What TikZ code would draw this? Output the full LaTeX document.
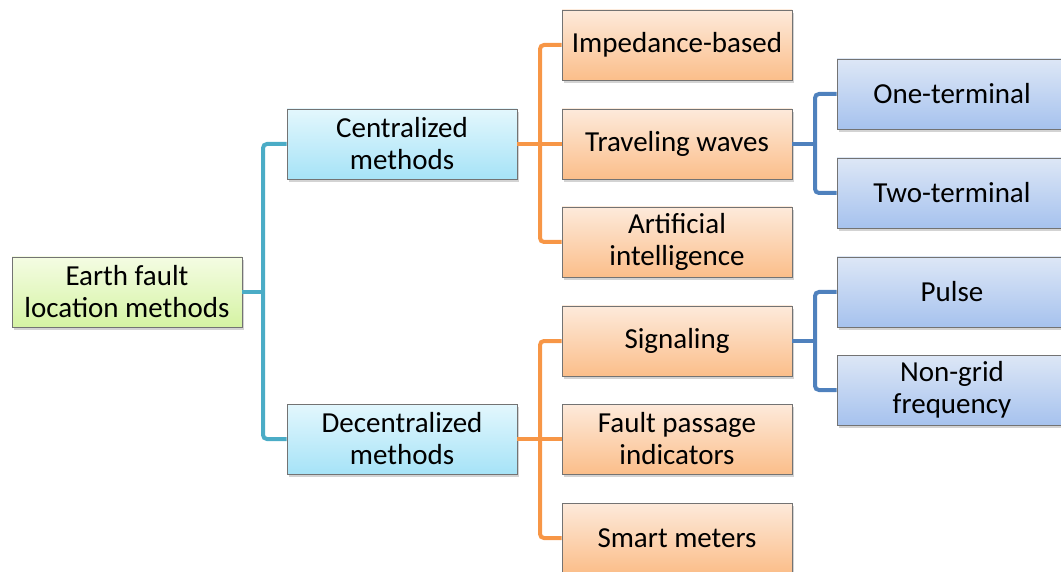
\documentclass[tikz,border=0pt]{standalone}
\usepackage{fontspec}
\setmainfont{Carlito}
\usetikzlibrary{shadows}

\definecolor{rootTop}{HTML}{F4FCE3}
\definecolor{rootBot}{HTML}{D5F3A3}
\definecolor{midTop}{HTML}{E3F7FD}
\definecolor{midBot}{HTML}{A6E3F7}
\definecolor{orTop}{HTML}{FDEADB}
\definecolor{orBot}{HTML}{FBBE8A}
\definecolor{blTop}{HTML}{DDE7F6}
\definecolor{blBot}{HTML}{A6C2EE}
\definecolor{tealLine}{HTML}{4BACC6}
\definecolor{orLine}{HTML}{F79646}
\definecolor{blLine}{HTML}{4F81BD}

\tikzset{
  box/.style={rectangle, draw=black!55, line width=0.8pt,
    minimum width=230pt, minimum height=70pt,
    align=center, font=\fontsize{29}{32}\selectfont,
    drop shadow={shadow xshift=2pt, shadow yshift=-3pt, opacity=0.35}},
  rootbox/.style={box, top color=rootTop, bottom color=rootBot},
  midbox/.style={box, top color=midTop, bottom color=midBot},
  orbox/.style={box, top color=orTop, bottom color=orBot},
  blbox/.style={box, top color=blTop, bottom color=blBot},
  link/.style={line width=4pt, rounded corners=4pt}
}

\begin{document}
\begin{tikzpicture}[x=1pt,y=-1pt]
        \useasboundingbox (0,0) rectangle (1061,572);
        \clip (0,0) rectangle (1061,572);

        % trunk positions
        \coordinate (t1) at (263,0);
        \coordinate (t2) at (540,0);
        \coordinate (t3) at (815,0);

        \node[rootbox] (R) at (127,292) {Earth fault\\location methods};
        \node[midbox] (C) at (402,144) {Centralized\\methods};
        \node[midbox] (D) at (402,439) {Decentralized\\methods};

        \node[orbox] (C1) at (677,45) {Impedance-based};
        \node[orbox] (C2) at (677,144) {Traveling waves};
        \node[orbox] (C3) at (677,242) {Artificial\\intelligence};
        \node[orbox] (D1) at (677,341) {Signaling};
        \node[orbox] (D2) at (677,439) {Fault passage\\indicators};
        \node[orbox] (D3) at (677,538) {Smart meters};

        \node[blbox] (W1) at (952,94) {One-terminal};
        \node[blbox] (W2) at (952,193) {Two-terminal};
        \node[blbox] (S1) at (952,292) {Pulse};
        \node[blbox] (S2) at (952,390) {Non-grid\\frequency};

        \draw[link, tealLine] (R.east) -- (R.east -| t1);
        \draw[link, tealLine] (C.west) -- (t1 |- C.west) |- (D.west);

        \draw[link, orLine] (C.east) -- (C.east -| t2);
        \draw[link, orLine] (C1.west) -- (t2 |- C1.west) |- (C3.west);
        \draw[link, orLine] (C2.west) -- (C2.west -| t2);
        \draw[link, orLine] (D.east) -- (D.east -| t2);
        \draw[link, orLine] (D1.west) -- (t2 |- D1.west) |- (D3.west);
        \draw[link, orLine] (D2.west) -- (D2.west -| t2);

        \draw[link, blLine] (C2.east) -- (C2.east -| t3);
        \draw[link, blLine] (W1.west) -- (t3 |- W1.west) |- (W2.west);
        \draw[link, blLine] (D1.east) -- (D1.east -| t3);
        \draw[link, blLine] (S1.west) -- (t3 |- S1.west) |- (S2.west);

    \end{tikzpicture}
\end{document}
